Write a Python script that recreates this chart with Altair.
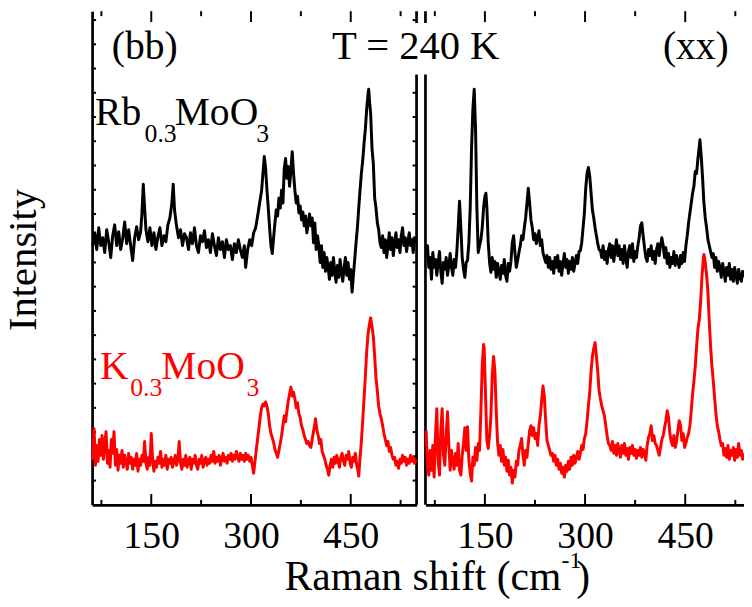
import altair as alt
import pandas as pd

FONT = "Liberation Serif, Times New Roman, serif"

# ---------------- data (Raman shift cm^-1, intensity a.u.) ----------------
bb_rb = [(62,262),(65,275),(68,258),(71,280),(74,262),(77,270),(80,255),(83,278),(86,266),(89,250),(92,272),(95,283),(98,262),(101,276),(104,258),(107,269),(110,286),(113,264),(116,278),(119,262),(122,247),(125,270),(128,281),(131,268),(134,276),(136,295),(138,324),(140,300),(142,278),(145,266),(148,280),(151,262),(154,275),(157,258),(160,271),(163,280),(166,262),(169,272),(172,266),(175,283),(178,290),(181,305),(183,324),(185,298),(188,282),(191,270),(194,278),(197,262),(200,274),(203,270),(206,258),(209,275),(212,264),(215,280),(218,262),(221,255),(224,272),(227,266),(230,277),(233,260),(236,268),(239,255),(242,274),(245,262),(248,252),(251,270),(254,258),(257,266),(260,250),(263,268),(266,258),(269,262),(272,248),(275,264),(278,255),(281,268),(284,258),(287,250),(290,262),(292,240),(295,258),(298,268),(301,262),(304,275),(307,280),(310,292),(313,305),(316,318),(318,335),(320,352),(322,340),(324,318),(326,300),(328,280),(330,262),(332,254),(334,270),(336,285),(338,298),(340,292),(342,310),(344,300),(346,318),(348,305),(350,340),(352,350),(354,330),(356,342),(358,322),(360,338),(362,357),(364,335),(366,318),(368,305),(370,312),(372,295),(374,302),(376,288),(378,296),(380,282),(382,292),(384,275),(386,284),(388,294),(390,282),(392,290),(394,265),(396,285),(398,258),(400,272),(402,262),(404,245),(406,262),(408,240),(410,255),(412,236),(414,250),(416,240),(418,228),(420,245),(422,232),(424,250),(426,235),(428,225),(430,242),(432,230),(434,248),(436,236),(438,226),(440,240),(442,250),(444,232),(446,245),(448,228),(450,238),(452,215),(454,232),(456,248),(458,265),(460,280),(462,300),(464,318),(466,335),(468,348),(470,365),(472,380),(474,400),(476,415),(477,420),(478,410),(480,395),(482,360),(484,345),(486,310),(488,300),(490,285),(492,278),(494,265),(496,260),(498,272),(500,255),(502,268),(504,250),(506,262),(508,275),(510,258),(512,270),(514,252),(516,264),(518,275),(520,260),(522,268),(524,255),(526,272),(528,280),(530,262),(532,270),(534,256),(536,266),(538,275),(540,262),(542,268),(544,255),(546,270),(548,264)]

bb_k = [(62,45),(64,77),(66,40),(68,60),(70,44),(72,66),(74,50),(76,70),(78,46),(80,62),(82,74),(84,42),(86,55),(88,38),(90,66),(92,52),(94,74),(96,40),(98,56),(100,35),(102,50),(104,42),(106,55),(108,38),(110,50),(112,44),(114,36),(116,52),(118,42),(120,48),(122,36),(124,46),(126,40),(128,52),(130,34),(132,46),(134,40),(136,50),(138,44),(140,64),(142,42),(144,36),(146,48),(148,40),(150,72),(152,46),(154,34),(156,44),(158,38),(160,48),(162,42),(164,54),(166,38),(168,46),(170,40),(172,50),(174,36),(176,46),(178,42),(180,48),(182,38),(184,44),(186,50),(188,40),(190,46),(192,64),(194,42),(196,36),(198,46),(200,40),(202,50),(204,38),(206,44),(208,48),(210,36),(212,46),(214,42),(216,50),(218,40),(220,36),(222,46),(224,42),(226,50),(228,38),(230,44),(232,48),(234,40),(236,46),(238,42),(240,50),(242,44),(244,54),(246,42),(248,48),(250,44),(252,50),(254,40),(256,46),(258,52),(260,44),(262,48),(264,42),(266,50),(268,46),(270,52),(272,44),(274,50),(276,46),(278,54),(280,48),(282,44),(284,52),(286,46),(288,50),(290,44),(292,52),(294,46),(296,50),(298,44),(300,48),(302,40),(304,32),(306,44),(308,56),(310,67),(312,78),(314,90),(316,98),(318,102),(320,100),(322,104),(324,100),(326,92),(328,80),(330,72),(332,68),(334,63),(336,56),(338,52),(340,48),(342,55),(344,62),(346,70),(348,80),(350,90),(352,84),(354,95),(356,105),(358,112),(360,119),(362,110),(364,114),(366,107),(368,98),(370,103),(372,92),(374,88),(376,80),(378,76),(380,70),(382,66),(384,62),(386,64),(388,60),(390,58),(392,66),(394,74),(396,82),(397,87),(399,76),(401,70),(403,62),(405,66),(407,54),(409,50),(411,46),(413,40),(415,36),(417,30),(419,40),(421,46),(423,38),(425,48),(427,42),(429,50),(431,44),(433,38),(435,48),(437,52),(439,44),(441,40),(443,50),(445,46),(447,54),(449,42),(451,38),(453,48),(455,44),(457,52),(459,40),(461,34),(462,29),(464,48),(466,64),(468,85),(470,107),(472,130),(474,155),(476,172),(478,182),(480,189),(482,180),(484,170),(486,150),(488,128),(490,115),(492,100),(494,92),(496,87),(498,80),(500,72),(502,66),(504,60),(506,64),(508,54),(510,58),(512,50),(514,46),(516,48),(518,40),(520,44),(522,37),(524,46),(526,42),(528,50),(530,44),(532,48),(534,40),(536,46),(538,42),(540,50),(542,44),(544,48),(546,42),(548,46)]

xx_rb = [(62,250),(64,262),(66,240),(68,250),(70,228),(72,255),(74,240),(76,248),(78,232),(80,245),(82,256),(84,236),(86,224),(88,245),(90,238),(92,250),(94,232),(96,242),(98,254),(100,240),(102,232),(104,248),(106,240),(108,256),(110,280),(112,307),(114,280),(116,250),(118,238),(120,230),(122,245),(124,247),(126,265),(128,300),(130,360),(132,400),(134,420),(136,380),(138,300),(140,255),(142,262),(144,268),(146,280),(148,300),(150,312),(151.5,315),(153,300),(155,265),(157,245),(159,235),(161,250),(163,238),(165,246),(167,230),(169,244),(171,236),(173,228),(175,242),(177,234),(179,248),(181,232),(183,226),(185,244),(187,236),(189,246),(191,265),(193,272),(195,255),(197,240),(199,247),(201,255),(203,262),(205,272),(207,268),(209,280),(211,290),(213,305),(215,320),(217,305),(219,288),(221,280),(223,268),(225,274),(227,264),(229,270),(231,277),(233,262),(235,268),(237,255),(239,250),(241,245),(243,252),(245,240),(247,250),(249,238),(251,246),(253,234),(255,250),(257,240),(259,252),(261,236),(263,246),(265,232),(267,244),(269,254),(271,240),(273,248),(275,234),(277,246),(279,238),(281,250),(283,236),(285,244),(287,252),(289,244),(291,256),(293,257),(295,265),(297,280),(299,295),(301,320),(303,335),(305,341),(307,332),(309,315),(311,298),(313,290),(315,280),(317,272),(319,264),(321,258),(323,257),(325,250),(327,262),(329,248),(331,256),(333,244),(335,258),(337,264),(339,250),(341,262),(343,246),(345,258),(347,268),(349,252),(351,262),(353,248),(355,258),(357,244),(359,262),(361,250),(363,240),(365,256),(367,262),(369,250),(371,264),(373,246),(375,256),(377,250),(379,262),(381,270),(383,282),(385,285),(387,272),(389,260),(391,250),(393,246),(395,258),(397,252),(399,262),(401,248),(403,256),(405,244),(407,258),(409,264),(411,252),(413,262),(415,270),(417,262),(419,250),(421,260),(423,244),(425,254),(427,240),(429,250),(431,244),(433,256),(435,242),(437,252),(439,246),(441,240),(443,252),(445,244),(447,255),(449,246),(451,262),(453,272),(455,285),(457,295),(459,305),(461,315),(463,322),(465,337),(467,335),(469,350),(471,362),(472,369),(474,352),(476,330),(478,305),(480,290),(482,280),(484,268),(486,262),(488,256),(490,250),(492,254),(494,240),(496,250),(498,236),(500,246),(502,240),(504,230),(506,244),(508,236),(510,226),(512,240),(514,232),(516,244),(518,228),(520,238),(522,226),(524,240),(526,232),(528,224),(530,238),(532,230),(534,226),(536,236),(538,230)]

xx_k = [(62,75),(64,40),(66,30),(68,55),(70,35),(72,60),(74,28),(76,70),(78,97),(80,45),(82,30),(84,75),(86,97),(88,50),(90,40),(92,70),(94,94),(96,60),(98,35),(100,55),(102,42),(104,36),(106,52),(108,40),(110,62),(112,35),(114,30),(116,50),(118,62),(120,78),(122,55),(124,79),(126,45),(128,32),(130,24),(132,48),(134,40),(136,58),(138,45),(140,62),(142,55),(144,95),(146,140),(148,162),(149,158),(151,110),(153,65),(155,57),(157,70),(159,90),(161,130),(163,150),(165,135),(167,95),(169,63),(171,50),(173,60),(175,44),(177,56),(179,40),(181,48),(183,34),(185,45),(187,30),(189,38),(191,22),(193,35),(195,28),(197,44),(199,40),(201,55),(203,60),(205,67),(207,50),(209,40),(211,55),(213,48),(215,62),(217,75),(219,80),(221,70),(223,78),(225,67),(227,72),(229,60),(231,80),(233,90),(235,105),(237,120),(239,110),(241,85),(243,65),(245,60),(247,55),(249,50),(251,52),(253,44),(255,50),(257,40),(259,46),(261,36),(263,42),(265,32),(267,38),(269,28),(271,40),(273,34),(275,44),(277,36),(279,48),(281,40),(283,50),(285,42),(287,48),(289,54),(291,46),(293,52),(295,60),(297,56),(299,67),(301,72),(303,85),(305,100),(307,114),(309,135),(311,150),(313,158),(315,164),(317,150),(319,135),(321,115),(323,107),(325,100),(327,95),(329,90),(331,80),(333,70),(335,62),(337,60),(339,55),(341,64),(343,52),(345,60),(347,50),(349,62),(351,55),(353,48),(355,60),(357,52),(359,62),(361,50),(363,57),(365,46),(367,58),(369,52),(371,60),(373,50),(375,56),(377,47),(379,55),(381,50),(383,58),(385,48),(387,56),(389,52),(391,45),(393,60),(395,68),(397,72),(399,80),(401,65),(403,70),(405,62),(407,60),(409,55),(411,50),(413,58),(415,66),(417,70),(419,78),(421,85),(423,95),(425,88),(427,72),(429,64),(431,60),(433,70),(435,58),(437,64),(439,75),(441,85),(443,80),(445,65),(447,72),(449,58),(451,62),(453,68),(455,72),(457,80),(459,95),(461,112),(463,125),(465,140),(467,160),(469,178),(471,187),(473,205),(475,230),(477,248),(478,253),(480,245),(482,232),(484,215),(486,185),(488,160),(490,140),(492,125),(494,108),(496,92),(498,80),(500,74),(502,66),(504,60),(506,62),(508,50),(510,57),(512,48),(514,60),(516,46),(518,55),(520,50),(522,58),(524,45),(526,56),(528,48),(530,62),(532,50),(534,55),(536,46),(538,52)]

x_major = [150, 300, 450]
x_minor = [75, 225, 375, 525]
y_ticks = [24.5 * k for k in range(1, 21)]

# ---------------- scales & axes ----------------
LX = alt.Scale(domain=[61, 549], range=[0, 328])
RX = alt.Scale(domain=[61, 538], range=[337, 659])
YS = alt.Scale(domain=[0, 499])

yaxis = alt.Axis(orient="left", labels=False, ticks=False, tickSize=0, title=None, grid=False,
                 domainColor="black", domainWidth=2.75)
xaxis = alt.Axis(orient="bottom", values=x_major, ticks=False, tickSize=0, grid=False, title=None,
                 labelFont=FONT, labelFontSize=38, labelColor="black", labelPadding=43,
                 labelBaseline="alphabetic", labelFlush=False, labelOverlap=False,
                 domainColor="black", domainWidth=2.75)

def df_of(pairs):
    return pd.DataFrame(pairs, columns=["shift", "intensity"])

def spectrum(pairs, scale, color, axis):
    return alt.Chart(df_of(pairs)).mark_line(color=color, strokeWidth=3, strokeJoin="round").encode(
        x=alt.X("shift:Q", scale=scale, axis=axis),
        y=alt.Y("intensity:Q", scale=YS, axis=yaxis),
    )

def vticks(vals, scale, y0, y1):
    return alt.Chart(pd.DataFrame({"v": vals})).mark_rule(color="black", strokeWidth=2).encode(
        x=alt.X("v:Q", scale=scale, axis=None), y=alt.value(y0), y2=alt.value(y1))

def frame(val, scale):
    return alt.Chart(pd.DataFrame({"v": [val]})).mark_rule(color="black", strokeWidth=2.75).encode(
        x=alt.X("v:Q", scale=scale, axis=None))

def hticks(x0, x1):
    return alt.Chart(pd.DataFrame({"v": y_ticks})).mark_rule(color="black", strokeWidth=2).encode(
        y=alt.Y("v:Q", scale=YS, axis=yaxis), x=alt.value(x0), x2=alt.value(x1))

one = pd.DataFrame({"a": [0]})

def label(text, x, y, size, color="black", angle=0, align="left"):
    return alt.Chart(one).mark_text(text=text, font=FONT, fontSize=size, color=color, angle=angle,
                                    align=align, baseline="alphabetic").encode(
        x=alt.value(x), y=alt.value(y))

layers = [
    frame(549, LX), frame(61, RX),
    vticks(x_major, LX, 0, 11), vticks(x_minor, LX, 0, 5),
    vticks(x_major, LX, 499, 488), vticks(x_minor, LX, 499, 494),
    vticks(x_major, RX, 0, 11), vticks(x_minor, RX, 0, 5),
    vticks(x_major, RX, 499, 488), vticks(x_minor, RX, 499, 494),
    hticks(0, 4), hticks(324, 328),
    spectrum(bb_rb, LX, "black", xaxis),
    spectrum(bb_k, LX, "#ff0000", None),
    spectrum(xx_rb, RX, "black", xaxis),
    spectrum(xx_k, RX, "#ff0000", None),
    alt.Chart(one).mark_rect(color="white").encode(
        x=alt.value(240), x2=alt.value(422), y=alt.value(12), y2=alt.value(64)),
    label("T = 240 K", 242.5, 48, 41),
    label("(bb)", 20, 48, 40),
    label("(xx)", 577, 48, 40),
    label("Rb", 3, 115, 40), label("0.3", 53, 132, 26),
    label("MoO", 83.5, 115, 40), label("3", 166, 132, 26),
    label("K", 8, 372, 40, "#ff0000"), label("0.3", 38.5, 389, 26, "#ff0000"),
    label("MoO", 70, 372, 40, "#ff0000"), label("3", 156, 389, 26, "#ff0000"),
    label("Intensity", -56.3, 251.5, 41, angle=270, align="center"),
    label("Raman shift (cm", 194.5, 585, 42),
    label("-1", 474.5, 563, 24),
    label(")", 489.5, 585, 42),
]

chart = alt.layer(*layers).resolve_scale(x="independent").properties(
    width=659, height=499,
    autosize=alt.AutoSizeParams(type="none"),
    padding={"left": 85, "top": 0, "right": 0, "bottom": 92},
).configure_view(stroke="transparent")

chart.save("out.html", embed_options={"renderer": "svg", "actions": False})
